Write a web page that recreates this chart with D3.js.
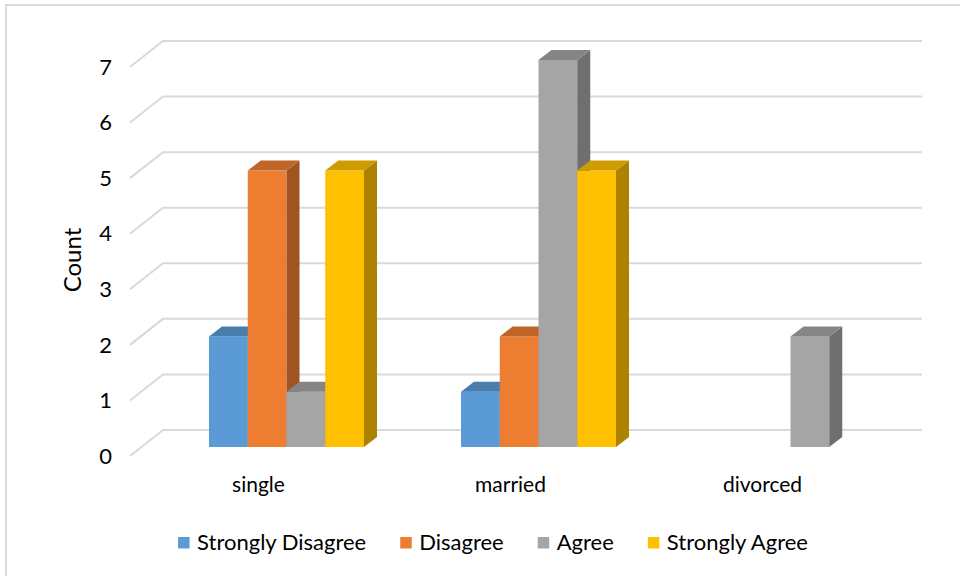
<!DOCTYPE html>
<html>
<head>
<meta charset="utf-8">
<script src="https://cdn.jsdelivr.net/npm/d3@7"></script>
<style>
  body { margin: 0; background: #fff; }
  svg { display: block; font-family: Lato, "Open Sans", sans-serif; }
</style>
</head>
<body>
<svg id="chart" width="960" height="576"></svg>
<script>
// counts per marital status, 3d column chart

let width = 960, height = 576

var categories = ['single', 'married', 'divorced']
var series = ['Strongly Disagree', 'Disagree', 'Agree', 'Strongly Agree']
var colors = ['#5B9BD5', '#ED7D31', '#A5A5A5', '#FFC000']
var values = [
    [2, 5, 1, 5],   // single
    [1, 2, 7, 5],   // married
    [0, 0, 2, 0]    // divorced
]
var yTicks = [0, 1, 2, 3, 4, 5, 6, 7]

var svg = d3.select('#chart')

// outer frame (right and bottom edges fall off the picture)
svg.append('rect')
    .attr('x', 6).attr('y', 5)
    .attr('width', 980).attr('height', 600)
    .attr('fill', 'none')
    .attr('stroke', '#d9d9d9')
    .attr('stroke-width', 2)

// three planes: front (tick labels), back wall (gridlines), bars in between
var yFront = d3.scaleLinear().domain([0, 7]).range([456, 67])
var yBack = d3.scaleLinear().domain([0, 7]).range([430, 41])
var yBar = d3.scaleLinear().domain([0, 7]).range([447, 60])

var x0 = d3.scaleBand().domain(categories).range([160.5, 916.5])
var groupW = 155
var x1 = d3.scaleBand().domain(series).range([0, groupW])
var color = d3.scaleOrdinal().domain(series).range(colors)

var depthX = 13, depthY = 10
var wallLeft = 163, wallRight = 922, frontLeft = 130

// gridlines: back wall line plus the diagonal on the side wall
var grid = svg.append('g')
    .attr('stroke', '#d9d9d9')
    .attr('stroke-width', 2)
    .attr('fill', 'none')

grid.selectAll('polyline')
    .data(yTicks)
    .enter()
    .append('polyline')
    .attr('points', d => [[frontLeft, yFront(d)], [wallLeft, yBack(d)], [wallRight, yBack(d)]].join(' '))

// y tick labels
svg.append('g')
    .selectAll('text')
    .data(yTicks)
    .enter()
    .append('text')
    .attr('x', 112)
    .attr('y', d => yFront(d))
    .attr('dy', '0.35em')
    .attr('text-anchor', 'end')
    .attr('font-size', 22)
    .attr('fill', '#000')
    .text(d => d)

// axis title
svg.append('text')
    .attr('transform', 'translate(81,260) rotate(-90)')
    .attr('text-anchor', 'middle')
    .attr('font-size', 24)
    .attr('fill', '#000')
    .text('Count')

// flatten to one row per bar, left to right so later fronts cover earlier sides
var bars = []
categories.forEach((c, i) => {
    series.forEach((s, j) => {
        bars.push({cat: c, key: s, value: values[i][j]})
    })
})

function barX(d) {
    return x0(d.cat) + (x0.bandwidth() - groupW) / 2 + x1(d.key)
}

var barG = svg.append('g')
    .selectAll('g')
    .data(bars.filter(d => d.value > 0))
    .enter()
    .append('g')

var bw = x1.bandwidth()

barG.append('rect')
    .attr('x', d => barX(d))
    .attr('y', d => yBar(d.value))
    .attr('width', bw)
    .attr('height', d => yBar(0) - yBar(d.value))
    .attr('fill', d => color(d.key))

// side face
barG.append('polygon')
    .attr('points', d => {
        var x = barX(d) + bw, t = yBar(d.value), b = yBar(0)
        return [[x, t], [x + depthX, t - depthY], [x + depthX, b - depthY], [x, b]].join(' ')
    })
    .attr('fill', d => d3.color(color(d.key)).darker(1.1))

// top face
barG.append('polygon')
    .attr('points', d => {
        var x = barX(d), t = yBar(d.value)
        return [[x, t], [x + depthX, t - depthY], [x + bw + depthX, t - depthY], [x + bw, t]].join(' ')
    })
    .attr('fill', d => d3.color(color(d.key)).darker(0.6))

// category labels sit on the front edge of the floor
svg.append('g')
    .selectAll('text')
    .data(categories)
    .enter()
    .append('text')
    .attr('x', d => x0(d) + x0.bandwidth() / 2 - 28)
    .attr('y', 492)
    .attr('text-anchor', 'middle')
    .attr('font-size', 21)
    .attr('fill', '#000')
    .text(d => d)

// legend, laid out from measured text widths and then centred
var legend = svg.append('g')
var items = legend.selectAll('g')
    .data(series)
    .enter()
    .append('g')

items.append('rect')
    .attr('y', 537)
    .attr('width', 11.5)
    .attr('height', 11.5)
    .attr('fill', d => color(d))

items.append('text')
    .attr('x', 19)
    .attr('y', 542.5)
    .attr('dy', '0.35em')
    .attr('font-size', 22)
    .attr('fill', '#000')
    .text(d => d)

var pos = 0
items.each(function() {
    var g = d3.select(this)
    g.attr('transform', 'translate(' + pos + ',0)')
    pos += 19 + g.select('text').node().getComputedTextLength() + 34
})
var total = pos - 34
legend.attr('transform', 'translate(' + (493 - total / 2) + ',0)')
</script>
</body>
</html>
